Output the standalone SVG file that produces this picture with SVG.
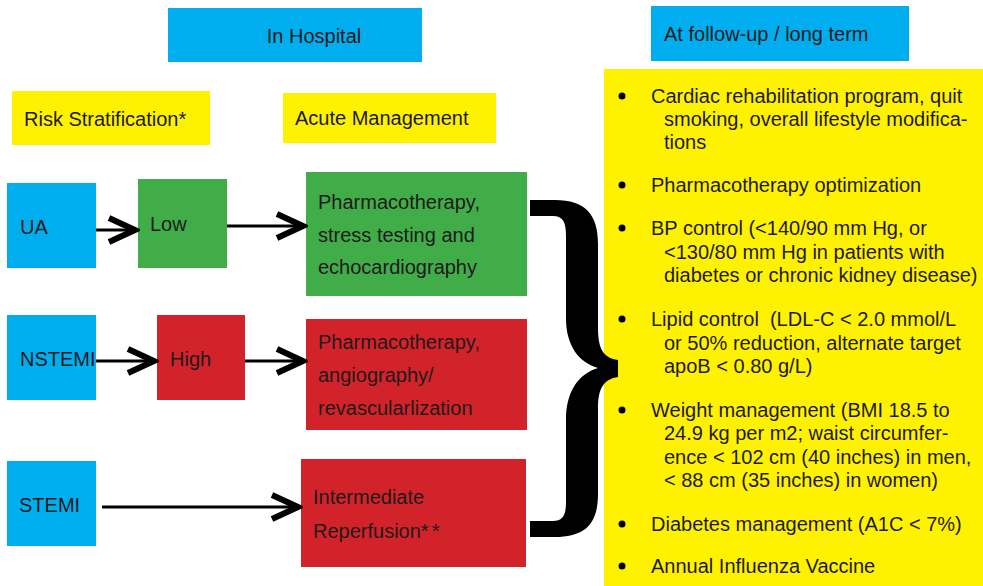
<svg xmlns="http://www.w3.org/2000/svg" width="983" height="586" viewBox="0 0 983 586">
<style>
.blue{fill:#00aeef}
.yel{fill:#fff200}
.grn{fill:#41ad49}
.red{fill:#d2232a}
text{font-family:"Liberation Sans",Arial,sans-serif;font-size:20px;fill:#1e1a1b}
.conn{stroke:#000;stroke-width:3;fill:none}
.bul{fill:#000}
</style>
<defs>
<marker id="chev" viewBox="0 0 34 30" markerWidth="34" markerHeight="30" markerUnits="userSpaceOnUse" refX="32" refY="15" orient="auto">
<path d="M3,3 L29,15 L3,27" fill="none" stroke="#000" stroke-width="6" stroke-linejoin="miter" stroke-miterlimit="10"/>
</marker>
</defs>
<rect width="983" height="586" fill="#fff"/>

<g id="in-hospital"><rect class="blue" x="168" y="8" width="254" height="54"/><text x="314" y="43" text-anchor="middle">In Hospital</text></g>
<g id="risk-strat"><rect class="yel" x="12" y="91" width="198" height="54"/><text x="24" y="126">Risk Stratification*</text></g>
<g id="acute-mgmt"><rect class="yel" x="283" y="93" width="213" height="50"/><text x="295" y="125">Acute Management</text></g>
<g id="follow-up"><rect class="blue" x="651" y="6" width="258" height="55"/><text x="664" y="41">At follow-up / long term</text></g>

<g id="ua"><rect class="blue" x="7" y="183" width="89" height="85"/><text x="20" y="234">UA</text></g>
<g id="low"><rect class="grn" x="138" y="179" width="89" height="89"/><text x="150" y="231">Low</text></g>
<g id="green-mgmt"><rect class="grn" x="306" y="172" width="221" height="124"/>
<text x="318" y="209">Pharmacotherapy,</text><text x="318" y="242">stress testing and</text><text x="318" y="274">echocardiography</text></g>

<g id="nstemi"><rect class="blue" x="7" y="315" width="89" height="85"/><text x="20" y="366">NSTEMI</text></g>
<g id="high"><rect class="red" x="157" y="315" width="88" height="85"/><text x="170" y="366">High</text></g>
<g id="red-mgmt"><rect class="red" x="306" y="319" width="221" height="111"/>
<text x="318" y="349">Pharmacotherapy,</text><text x="318" y="382">angiography/</text><text x="318" y="415">revascularlization</text></g>

<g id="stemi"><rect class="blue" x="7" y="461" width="89" height="85"/><text x="19" y="512">STEMI</text></g>
<g id="reperfusion"><rect class="red" x="301" y="459" width="225" height="108"/>
<text x="313" y="504">Intermediate</text><text x="313" y="538">Reperfusion*<tspan dx="3">*</tspan></text></g>

<g id="connectors">
<line class="conn" x1="96" y1="230" x2="138" y2="230" marker-end="url(#chev)"/>
<line class="conn" x1="227" y1="226" x2="306" y2="226" marker-end="url(#chev)"/>
<line class="conn" x1="96" y1="361" x2="157" y2="361" marker-end="url(#chev)"/>
<line class="conn" x1="245" y1="361" x2="306" y2="361" marker-end="url(#chev)"/>
<line class="conn" x1="102" y1="507" x2="301" y2="507" marker-end="url(#chev)"/>
</g>

<g id="long-term">
<rect class="yel" x="604" y="69" width="379" height="517"/>
<g class="bul">
<circle cx="622" cy="96" r="3.5"/>
<circle cx="622" cy="185" r="3.5"/>
<circle cx="622" cy="228" r="3.5"/>
<circle cx="622" cy="319" r="3.5"/>
<circle cx="622" cy="410" r="3.5"/>
<circle cx="622" cy="524" r="3.5"/>
<circle cx="622" cy="566" r="3.5"/>
</g>
<text x="651" y="103">Cardiac rehabilitation program, quit</text>
<text x="664" y="126">smoking, overall lifestyle modifica-</text>
<text x="664" y="149">tions</text>
<text x="651" y="192">Pharmacotherapy optimization</text>
<text x="651" y="235">BP control (&lt;140/90 mm Hg, or</text>
<text x="664" y="259">&lt;130/80 mm Hg in patients with</text>
<text x="664" y="282">diabetes or chronic kidney disease)</text>
<text x="651" y="326" xml:space="preserve">Lipid control  (LDL-C &lt; 2.0 mmol/L</text>
<text x="664" y="350">or 50% reduction, alternate target</text>
<text x="664" y="373">apoB &lt; 0.80 g/L)</text>
<text x="651" y="417">Weight management (BMI 18.5 to</text>
<text x="664" y="440">24.9 kg per m2; waist circumfer-</text>
<text x="664" y="464">ence &lt; 102 cm (40 inches) in men,</text>
<text x="664" y="487">&lt; 88 cm (35 inches) in women)</text>
<text x="651" y="531">Diabetes management (A1C &lt; 7%)</text>
<text x="651" y="573">Annual Influenza Vaccine</text>
</g>

<g id="brace">
<path fill="#000" d="M530,200 L555,200 C585,200 598,214 598,244 L598,328 C598,350 604,358 618,360 L618,377 C604,379 598,388 598,408 L598,494 C598,524 585,537 555,537 L530,537 L530,521 L553,521 C563,521 566,515 566,502 L566,420 C566,392 578,374 598,368 C578,362 566,345 566,318 L566,236 C566,222 563,216 553,216 L530,216 Z"/>
</g>
</svg>
